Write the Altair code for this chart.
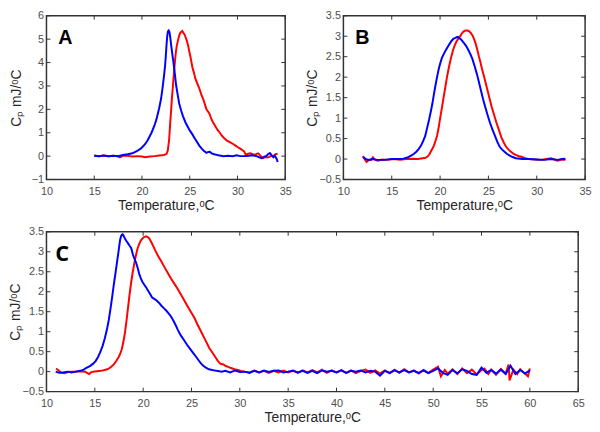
import altair as alt
import pandas as pd

XTITLE = "Temperature,ᵒC"
YTITLE = "Cₚ mJ/ᵒC"

# ---------------- Panel A ----------------
a_x_ticks = [10, 15, 20, 25, 30, 35]
a_y_ticks = [-1, 0, 1, 2, 3, 4, 5, 6]
a_blue_t = [15.0, 15.5, 16.0, 16.5, 17.0, 17.5, 18.0, 18.5, 19.0, 19.5, 19.9, 20.3, 20.6, 21.0, 21.3, 21.5, 21.8, 22.0, 22.15, 22.3, 22.42, 22.5, 22.58, 22.65, 22.72, 22.8, 22.88, 22.97, 23.07, 23.2, 23.3, 23.45, 23.57, 23.75, 23.9, 24.1, 24.3, 24.55, 24.78, 25.0, 25.28, 25.5, 25.77, 26.0, 26.26, 26.5, 26.76, 26.95, 27.1, 27.3, 27.57, 28.0, 28.56, 29.0, 29.5, 29.9, 30.3, 30.86, 31.2, 31.5, 32.0, 32.5, 32.8, 33.0, 33.2, 33.4, 33.55, 33.75, 33.9, 34.05, 34.15, 34.2]
a_blue_cp = [0.02, 0.0, 0.03, 0.0, 0.02, 0.0, 0.05, 0.08, 0.12, 0.22, 0.33, 0.5, 0.68, 1.0, 1.3, 1.55, 2.05, 2.45, 2.9, 3.4, 3.86, 4.3, 4.8, 5.15, 5.33, 5.37, 5.3, 5.05, 4.7, 4.3, 4.0, 3.5, 3.05, 2.6, 2.25, 1.95, 1.7, 1.45, 1.27, 1.1, 0.93, 0.78, 0.6, 0.45, 0.32, 0.22, 0.14, 0.18, 0.19, 0.12, 0.08, 0.04, 0.0, 0.02, 0.0, 0.04, 0.0, 0.0, 0.02, 0.04, 0.0, -0.09, -0.02, 0.0, 0.08, 0.13, 0.05, -0.05, 0.02, -0.08, -0.16, -0.25]
a_red_t = [15.0, 15.5, 16.0, 16.5, 17.0, 17.4, 17.7, 18.05, 18.5, 19.0, 19.5, 20.0, 20.35, 20.8, 21.33, 21.8, 22.3, 22.58, 22.71, 22.85, 22.98, 23.06, 23.14, 23.22, 23.3, 23.38, 23.47, 23.55, 23.63, 23.8, 23.92, 24.03, 24.22, 24.45, 24.6, 24.72, 24.85, 24.95, 25.1, 25.28, 25.45, 25.6, 25.8, 26.0, 26.2, 26.43, 26.6, 26.75, 26.9, 27.08, 27.25, 27.41, 27.65, 27.9, 28.15, 28.4, 28.65, 28.9, 29.2, 29.55, 29.8, 30.04, 30.3, 30.53, 30.7, 30.86, 31.1, 31.35, 31.6, 31.85, 32.0, 32.17, 32.4, 32.67, 32.9, 33.16, 33.5, 33.8, 34.0, 34.2]
a_red_cp = [0.03, 0.0, 0.03, 0.0, 0.02, 0.0, -0.05, 0.02, 0.02, -0.02, 0.0, -0.02, -0.05, -0.02, 0.0, 0.03, 0.05, 0.1, 0.25, 0.73, 1.55, 2.0, 2.5, 2.9, 3.3, 3.7, 4.13, 4.45, 4.68, 5.0, 5.18, 5.28, 5.35, 5.2, 5.05, 4.9, 4.7, 4.48, 4.2, 3.8, 3.55, 3.3, 3.1, 2.9, 2.65, 2.42, 2.2, 2.0, 1.92, 1.8, 1.6, 1.47, 1.3, 1.13, 1.0, 0.86, 0.75, 0.66, 0.6, 0.52, 0.45, 0.38, 0.32, 0.25, 0.2, 0.05, 0.1, 0.12, 0.08, 0.05, 0.1, 0.12, 0.02, -0.09, -0.04, -0.06, 0.0, 0.02, 0.08, 0.1]

# ---------------- Panel B ----------------
b_x_ticks = [10, 15, 20, 25, 30, 35]
b_y_ticks = [-0.5, 0, 0.5, 1, 1.5, 2, 2.5, 3, 3.5]
b_blue_t = [12.06, 12.3, 12.56, 13.0, 13.5, 14.2, 15.0, 15.88, 16.2, 16.54, 16.8, 17.04, 17.3, 17.54, 17.8, 18.03, 18.25, 18.47, 18.65, 18.86, 19.03, 19.2, 19.36, 19.53, 19.7, 19.86, 20.03, 20.19, 20.45, 20.69, 20.94, 21.19, 21.4, 21.59, 21.75, 21.85, 22.0, 22.18, 22.35, 22.52, 22.7, 22.91, 23.12, 23.35, 23.6, 23.84, 24.04, 24.24, 24.45, 24.67, 24.92, 25.17, 25.42, 25.67, 25.92, 26.17, 26.42, 26.67, 26.9, 27.16, 27.5, 27.83, 28.5, 29.16, 30.0, 30.82, 31.5, 32.15, 32.6, 32.97]
b_blue_cp = [0.05, 0.0, -0.02, 0.0, -0.02, -0.02, 0.0, 0.0, 0.01, 0.03, 0.06, 0.09, 0.13, 0.18, 0.25, 0.33, 0.44, 0.57, 0.75, 0.96, 1.15, 1.35, 1.58, 1.81, 2.02, 2.2, 2.35, 2.47, 2.6, 2.7, 2.8, 2.89, 2.94, 2.96, 2.98, 2.98, 2.95, 2.92, 2.87, 2.82, 2.76, 2.67, 2.57, 2.44, 2.25, 2.05, 1.86, 1.66, 1.46, 1.27, 1.07, 0.88, 0.72, 0.57, 0.42, 0.3, 0.23, 0.18, 0.13, 0.09, 0.05, 0.02, 0.0, 0.0, -0.01, -0.02, 0.0, -0.02, 0.0, 0.01]
b_red_t = [11.99, 12.2, 12.39, 12.6, 12.89, 13.05, 13.3, 13.55, 14.0, 14.55, 15.2, 15.88, 16.5, 17.2, 17.7, 18.2, 18.5, 18.7, 18.88, 19.03, 19.2, 19.36, 19.52, 19.69, 19.86, 20.03, 20.2, 20.36, 20.53, 20.69, 20.86, 21.02, 21.18, 21.35, 21.52, 21.69, 21.85, 22.02, 22.2, 22.35, 22.52, 22.68, 22.85, 23.01, 23.18, 23.35, 23.52, 23.68, 23.85, 24.01, 24.18, 24.34, 24.6, 24.84, 25.1, 25.34, 25.6, 25.84, 26.1, 26.34, 26.6, 26.83, 27.08, 27.33, 27.58, 27.83, 28.15, 28.49, 28.8, 29.16, 29.8, 30.49, 31.0, 31.48, 31.8, 32.15, 32.5, 32.97]
b_red_cp = [0.07, 0.0, -0.07, -0.03, -0.02, 0.04, -0.02, -0.04, -0.01, -0.02, 0.0, -0.02, 0.0, 0.01, 0.0, 0.02, 0.03, 0.06, 0.11, 0.18, 0.25, 0.33, 0.44, 0.57, 0.78, 1.03, 1.27, 1.5, 1.74, 1.97, 2.18, 2.36, 2.52, 2.67, 2.78, 2.87, 2.93, 2.98, 3.05, 3.1, 3.13, 3.14, 3.14, 3.12, 3.08, 3.02, 2.93, 2.82, 2.67, 2.51, 2.36, 2.2, 1.97, 1.74, 1.5, 1.27, 1.07, 0.88, 0.7, 0.53, 0.4, 0.3, 0.23, 0.18, 0.13, 0.1, 0.07, 0.05, 0.02, 0.0, -0.01, -0.02, 0.0, 0.02, -0.01, -0.04, -0.02, -0.02]

# ---------------- Panel C ----------------
c_x_ticks = [10, 15, 20, 25, 30, 35, 40, 45, 50, 55, 60, 65]
c_y_ticks = [-0.5, 0, 0.5, 1, 1.5, 2, 2.5, 3, 3.5]
c_blue_t = [10.95, 11.3, 11.7, 12.2, 12.6, 13.0, 13.5, 13.85, 14.17, 14.5, 14.83, 15.1, 15.32, 15.55, 15.8, 16.03, 16.24, 16.45, 16.64, 16.8, 16.96, 17.13, 17.29, 17.42, 17.52, 17.62, 17.72, 17.8, 17.88, 17.98, 18.11, 18.27, 18.44, 18.6, 18.77, 18.94, 19.1, 19.26, 19.43, 19.59, 19.75, 19.92, 20.1, 20.25, 20.42, 20.58, 20.75, 20.91, 21.15, 21.4, 21.65, 21.89, 22.14, 22.38, 22.63, 22.88, 23.12, 23.37, 23.6, 23.86, 24.2, 24.52, 24.76, 25.01, 25.26, 25.51, 25.75, 26.0, 26.25, 26.49, 26.8, 27.15, 27.6, 28.13,
            28.5, 29.0, 29.5, 30.0, 30.5, 31.0, 31.5, 32.0, 32.5, 33.0, 33.5, 34.0, 34.5, 35.0, 35.5, 36.0, 36.5, 37.0, 37.5, 38.0, 38.5, 39.0, 39.5, 40.0, 40.5, 41.0, 41.5, 42.0, 42.5, 43.0, 43.5, 44.0, 44.5, 45.0, 45.5, 46.0, 46.5, 47.0, 47.5, 48.0, 48.5, 49.0, 49.5, 50.0, 50.5, 51.0, 51.5, 52.0, 52.5, 53.0, 53.5, 54.0, 54.5, 55.0, 55.5, 56.0, 56.5, 57.0, 57.5, 58.0, 58.5, 59.0, 59.5, 60.0]
c_blue_cp = [0.0, -0.03, -0.02, 0.0, -0.02, 0.0, 0.02, 0.05, 0.1, 0.14, 0.2, 0.27, 0.36, 0.48, 0.64, 0.83, 1.04, 1.3, 1.6, 1.88, 2.17, 2.45, 2.73, 2.95, 3.13, 3.3, 3.39, 3.43, 3.44, 3.4, 3.33, 3.27, 3.21, 3.15, 3.09, 2.93, 2.83, 2.73, 2.6, 2.45, 2.34, 2.25, 2.18, 2.13, 2.06, 2.0, 1.93, 1.86, 1.82, 1.78, 1.72, 1.65, 1.59, 1.53, 1.46, 1.38, 1.28, 1.16, 1.04, 0.92, 0.8, 0.68, 0.6, 0.52, 0.44, 0.36, 0.28, 0.2, 0.14, 0.1, 0.06, 0.04, 0.02, 0.0,
             0.02, -0.02, 0.03, -0.01, 0.0, -0.03, 0.02, -0.02, 0.03, -0.01, 0.02, 0.03, -0.02, 0.0, 0.03, -0.02, 0.02, -0.03, 0.02, -0.04, 0.03, 0.0, 0.02, -0.02, 0.03, -0.03, 0.02, 0.0, 0.03, -0.02, 0.02, 0.0, -0.1, 0.02, -0.03, 0.03, -0.02, 0.04, -0.02, 0.02, -0.03, 0.03, -0.04, 0.02, 0.08, -0.03, -0.08, 0.04, -0.04, 0.06, 0.02, -0.06, -0.08, 0.1, -0.03, 0.04, -0.05, 0.05, -0.06, 0.15, -0.06, 0.04, -0.05, 0.03]
c_red_t = [10.99, 11.2, 11.38, 11.6, 11.87, 12.2, 12.6, 13.0, 13.5, 14.0, 14.2, 14.4, 14.6, 14.83, 15.2, 15.65, 16.0, 16.3, 16.65, 16.96, 17.2, 17.46, 17.63, 17.79, 17.95, 18.11, 18.28, 18.44, 18.6, 18.77, 18.93, 19.1, 19.27, 19.43, 19.6, 19.76, 19.92, 20.09, 20.32, 20.48, 20.64, 20.85, 21.07, 21.3, 21.56, 21.9, 22.22, 22.55, 22.88, 23.2, 23.53, 23.86, 24.19, 24.52, 24.85, 25.1, 25.34, 25.58, 25.83, 26.08, 26.33, 26.58, 26.82, 27.15, 27.48, 27.72, 27.97, 28.3, 28.55, 28.79, 29.1, 29.45, 29.8, 30.1, 30.5, 31.0,
           31.5, 32.0, 32.5, 33.0, 33.5, 34.0, 34.5, 35.0, 35.5, 36.0, 36.5, 37.0, 37.5, 38.0, 38.5, 39.0, 39.5, 40.0, 40.5, 41.0, 41.5, 42.0, 42.5, 43.0, 43.5, 44.0, 44.5, 45.0, 45.5, 46.0, 46.5, 47.0, 47.5, 48.0, 48.5, 49.0, 49.5, 50.0, 50.5, 50.8, 51.2, 51.5, 52.0, 52.5, 53.0, 53.5, 54.0, 54.5, 55.0, 55.3, 55.7, 56.0, 56.5, 57.0, 57.5, 57.8, 57.9, 58.3, 58.7, 59.0, 59.5, 59.8, 60.0]
c_red_cp = [0.08, 0.04, 0.0, -0.03, -0.04, -0.01, 0.0, 0.0, 0.01, 0.0, -0.03, -0.06, -0.02, 0.0, 0.01, 0.02, 0.04, 0.06, 0.11, 0.18, 0.26, 0.36, 0.45, 0.56, 0.74, 0.96, 1.28, 1.61, 1.94, 2.25, 2.5, 2.73, 2.93, 3.09, 3.2, 3.28, 3.33, 3.37, 3.39, 3.37, 3.33, 3.24, 3.13, 3.01, 2.89, 2.75, 2.61, 2.47, 2.33, 2.21, 2.09, 1.95, 1.81, 1.67, 1.53, 1.43, 1.33, 1.2, 1.08, 0.96, 0.84, 0.72, 0.6, 0.48, 0.36, 0.27, 0.2, 0.18, 0.14, 0.12, 0.09, 0.06, 0.04, 0.02, 0.0, -0.02,
            0.03, -0.02, 0.02, -0.03, 0.02, -0.02, 0.03, -0.02, 0.02, -0.03, 0.03, -0.02, 0.04, -0.02, 0.05, -0.03, 0.03, -0.02, 0.04, -0.03, 0.03, -0.04, 0.02, 0.05, -0.03, 0.03, -0.05, 0.03, -0.04, 0.05, -0.03, 0.06, -0.02, 0.03, -0.05, 0.04, -0.03, 0.05, 0.12, -0.12, 0.04, -0.05, 0.06, -0.06, 0.08, -0.04, 0.05, -0.07, 0.04, 0.08, -0.06, 0.05, -0.08, 0.07, -0.05, 0.18, -0.22, 0.05, -0.06, 0.06, -0.05, -0.12, 0.08]

FRAME = "#333333"
RED = "#ff0000"
BLUE = "#0000ff"


def panel(red_t, red_cp, blue_t, blue_cp, xdom, ydom, xt, yt, W, H,
          letter, lx, ly, lfont, lsize, ytitle_pad):
    def X(field):
        return alt.X(field, scale=alt.Scale(domain=xdom, nice=False, zero=False),
                     axis=alt.Axis(values=xt, format="~g", title=XTITLE))

    def Y(field):
        return alt.Y(field, scale=alt.Scale(domain=ydom, nice=False, zero=False),
                     axis=alt.Axis(values=yt, format="~g", title=YTITLE,
                                   titlePadding=ytitle_pad))

    red = alt.Chart(pd.DataFrame({"t": red_t, "cp": red_cp})).mark_line(
        color=RED, strokeWidth=2).encode(x=X("t:Q"), y=Y("cp:Q"))
    blue = alt.Chart(pd.DataFrame({"t": blue_t, "cp": blue_cp})).mark_line(
        color=BLUE, strokeWidth=2).encode(x=X("t:Q"), y=Y("cp:Q"))
    xdf = pd.DataFrame({"t": xt})
    ydf = pd.DataFrame({"cp": yt})
    tl = 4
    bottom = alt.Chart(xdf).mark_rule(color=FRAME, strokeWidth=1).encode(
        x=X("t:Q"), y=alt.value(H), y2=alt.value(H - tl))
    top = alt.Chart(xdf).mark_rule(color=FRAME, strokeWidth=1).encode(
        x=X("t:Q"), y=alt.value(0), y2=alt.value(tl))
    left = alt.Chart(ydf).mark_rule(color=FRAME, strokeWidth=1).encode(
        y=Y("cp:Q"), x=alt.value(0), x2=alt.value(tl))
    right = alt.Chart(ydf).mark_rule(color=FRAME, strokeWidth=1).encode(
        y=Y("cp:Q"), x=alt.value(W), x2=alt.value(W - tl))
    lab = alt.Chart(pd.DataFrame({"l": [letter]})).mark_text(
        align="left", baseline="alphabetic", fontSize=lsize, fontWeight="bold",
        font=lfont, color="black").encode(
        text="l:N", x=alt.value(lx), y=alt.value(ly))
    return alt.layer(red, blue, bottom, top, left, right, lab).properties(width=W, height=H)


pa = panel(a_red_t, a_red_cp, a_blue_t, a_blue_cp, [10, 35], [-1, 6], a_x_ticks, a_y_ticks,
           242, 166, "A", 12, 29, "Liberation Sans", 20, 8)
pb = panel(b_red_t, b_red_cp, b_blue_t, b_blue_cp, [10, 35], [-0.5, 3.5], b_x_ticks, b_y_ticks,
           245, 166, "B", 12, 29, "Liberation Sans", 20, 0)
pc = panel(c_red_t, c_red_cp, c_blue_t, c_blue_cp, [10, 65], [-0.5, 3.5], c_x_ticks, c_y_ticks,
           539, 162, "C", 9, 30, "Open Sans", 22, 0)

chart = alt.vconcat(alt.hconcat(pa, pb, spacing=12), pc, spacing=12).properties(
    padding={"left": -1, "top": -2, "right": 0, "bottom": 0}
).configure_view(
    stroke=FRAME, strokeWidth=1.5
).configure_axis(
    domain=False, ticks=False, tickSize=0, grid=False, labelFlush=False,
    labelFont="Liberation Sans", labelFontSize=11, labelColor="#4d4d4d",
    titleFont="Liberation Sans", titleFontSize=14, titleFontWeight="normal", titleColor="#262626",
).configure_axisX(labelPadding=6, titlePadding=2).configure_axisY(labelPadding=3)

chart.save("out.html", embed_options={"renderer": "svg", "actions": False})
